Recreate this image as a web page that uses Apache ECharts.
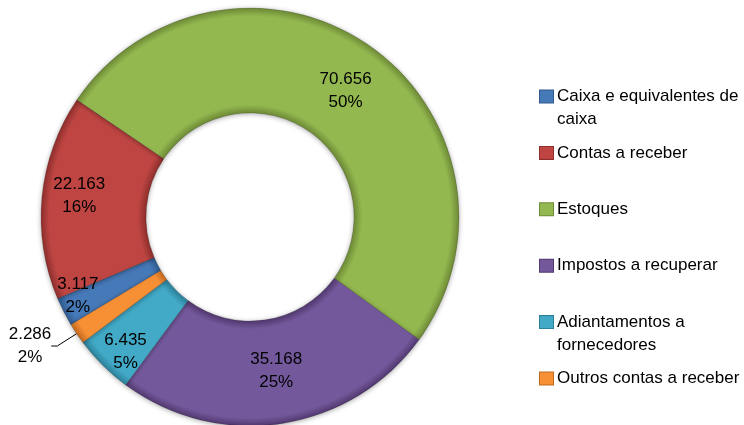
<!DOCTYPE html>
<html>
<head>
<meta charset="utf-8">
<script src="https://cdn.jsdelivr.net/npm/echarts@6/dist/echarts.min.js"></script>
<style>
  html, body { margin: 0; padding: 0; background: #fff; }
  #chart { width: 744px; height: 425px; }
</style>
</head>
<body>
<div id="chart"></div>
<script>
// dados do gráfico
const categorias = ['Caixa e equivalentes de caixa', 'Contas a receber', 'Estoques',
  'Impostos a recuperar', 'Adiantamentos a fornecedores', 'Outros contas a receber'];
const legendaLinhas = [['Caixa e equivalentes de', 'caixa'], ['Contas a receber'], ['Estoques'],
  ['Impostos a recuperar'], ['Adiantamentos a', 'fornecedores'], ['Outros contas a receber']];
const valores = [3.117, 22.163, 70.656, 35.168, 6.435, 2.286];

const cores = ['#4679B8', '#BE4542', '#93B84F', '#74589C', '#42A9C6', '#F78F35'];
const bordas = ['#2F5A8F', '#8E2F2D', '#6E8A37', '#52396F', '#2B7F97', '#C06A20'];

const cx = 250, cy = 217, rIn = 104, rOut = 209;

// ajuste fino dos rótulos (posição tipo Excel)
const ajusteRotulo = [
  { dx: -30, dy: 6 },
  { dx: -12, dy: -6 },
  { dx: 4, dy: 4 },
  { dx: 2, dy: -4 },
  { dx: -12, dy: 22 },
  { x: 30, y: 346, align: 'center', verticalAlign: 'middle' }
];

function preenchimento(i) {
  return {
    type: 'radial', x: cx, y: cy, r: rOut, global: true,
    colorStops: [
      { offset: rIn / rOut, color: bordas[i] },
      { offset: rIn / rOut + 0.04, color: cores[i] },
      { offset: 0.96, color: cores[i] },
      { offset: 1, color: bordas[i] }
    ]
  };
}

const dados = valores.map(function (v, i) {
  const item = { name: categorias[i], value: v, itemStyle: { color: preenchimento(i) } };
  if (i === 5) {
    item.label = { position: 'outside' };
    item.labelLine = { show: true, length: 12, length2: 6, smooth: false, lineStyle: { color: '#000', width: 1 } };
  }
  return item;
});

const rich = {
  g: { width: 4 },
  p: { width: 17 },
  t: { fontSize: 17, lineHeight: 23, color: '#000', fontFamily: 'Liberation Sans' }
};
cores.forEach(function (c, i) {
  rich['s' + i] = { width: 13, height: 12, backgroundColor: c, borderColor: bordas[i], borderWidth: 1 };
});

const chart = echarts.init(document.getElementById('chart'));
chart.setOption({
  animation: false,
  legend: {
    orient: 'vertical',
    left: 534,
    top: 85,
    padding: 0,
    itemGap: 10.4,
    itemWidth: 0,
    itemHeight: 0,
    selectedMode: false,
    data: categorias,
    formatter: function (name) {
      const i = categorias.indexOf(name);
      const linhas = legendaLinhas[i];
      const segunda = linhas.length > 1 ? linhas[1] : ' ';
      return '{s' + i + '|}{g|}{t|' + linhas[0] + '}\n{p|}{t|' + segunda + '}';
    },
    textStyle: { rich: rich, lineHeight: 23 }
  },
  series: [{
    type: 'pie',
    center: [cx, cy],
    radius: [rIn, rOut],
    startAngle: 211,
    clockwise: true,
    percentPrecision: 0,
    avoidLabelOverlap: false,
    itemStyle: {
      borderColor: 'rgba(0,0,0,0.25)',
      borderWidth: 0.6,
      shadowBlur: 5,
      shadowColor: 'rgba(0,0,0,0.35)',
      shadowOffsetY: 1
    },
    label: {
      show: true,
      position: 'inside',
      color: '#000',
      fontSize: 17,
      lineHeight: 23,
      fontFamily: 'Liberation Sans',
      formatter: function (p) {
        return p.value.toFixed(3) + '\n' + p.percent + '%';
      }
    },
    labelLine: { show: false },
    labelLayout: function (p) {
      return ajusteRotulo[p.dataIndex];
    },
    emphasis: { disabled: true },
    data: dados
  }]
});
</script>
</body>
</html>
